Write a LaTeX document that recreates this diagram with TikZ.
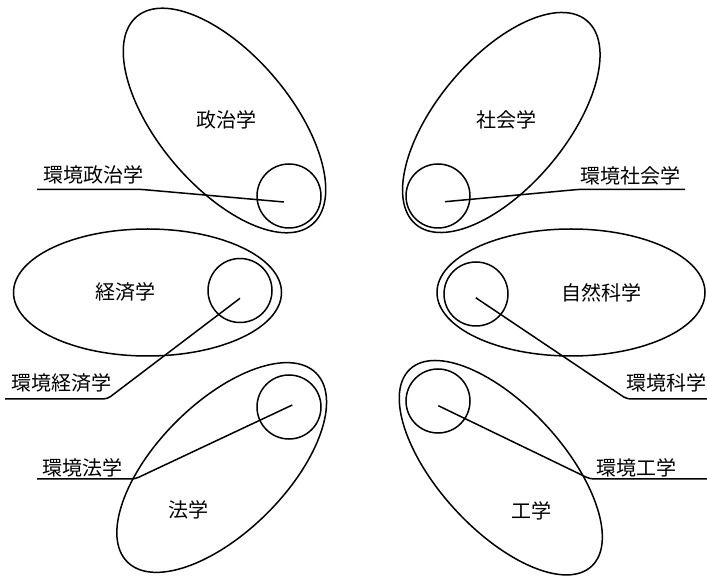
\documentclass[tikz,border=0pt]{standalone}
\usepackage{fontspec}
\newfontfamily\jp{Noto Sans CJK JP}
\usetikzlibrary{shapes.geometric}
\tikzset{
  field/.style={draw, ellipse, inner sep=0pt, line width=1.5pt},
  sub/.style={draw, circle, inner sep=0pt, minimum size=64pt, line width=1.5pt},
  lbl/.style={inner sep=0pt, font=\jp\fontsize{20}{24}\selectfont},
  lead/.style={line width=1.5pt, rounded corners=4pt}
}
\begin{document}
\begin{tikzpicture}[x=1pt,y=1pt]
\fill[white] (0,0) rectangle (707,576);
\useasboundingbox (0,0) rectangle (707,576);
% large fields
\node[field, minimum width=272pt, minimum height=132pt, rotate=-49.8] (E1) at (224.5,455.5) {};
\node[field, minimum width=266pt, minimum height=129pt, rotate=50] (E2) at (501.3,453.5) {};
\node[field, minimum width=268pt, minimum height=127pt] (E3) at (147.5,283.5) {};
\node[field, minimum width=268pt, minimum height=127pt] (E4) at (571,283.5) {};
\node[field, minimum width=267pt, minimum height=129pt, rotate=45] (E5) at (221.7,108.5) {};
\node[field, minimum width=268pt, minimum height=124pt, rotate=-47.4] (E6) at (500.8,108.3) {};
% field names
\node[lbl] (n1) at (226,456) {政治学};
\node[lbl] (n2) at (506.7,456) {社会学};
\node[lbl] (n3) at (125,284.3) {経済学};
\node[lbl] (n4) at (601.7,282.7) {自然科学};
\node[lbl] (n5) at (188.3,66) {法学};
\node[lbl] (n6) at (531.7,65.3) {工学};
% environmental sub-fields
\node[sub] (c1) at (289,380) {};
\node[sub] (c2) at (438,380) {};
\node[sub] (c3) at (240,285.5) {};
\node[sub] (c4) at (476,282) {};
\node[sub] (c5) at (289,169) {};
\node[sub] (c6) at (438,175) {};
% leader coordinates
\coordinate (s1) at (284,374);   \coordinate (b1) at (140,386.7); \coordinate (e1) at (37,386.7);
\coordinate (s2) at (445,374.3); \coordinate (b2) at (580,386.7); \coordinate (e2) at (685,386.7);
\coordinate (s3) at (240,277.7); \coordinate (b3) at (107.3,177); \coordinate (e3) at (5,177);
\coordinate (s4) at (475.7,278.3); \coordinate (b4) at (626.7,177); \coordinate (e4) at (707,177);
\coordinate (s5) at (292.3,171); \coordinate (b5) at (135,97);   \coordinate (e5) at (37,97);
\coordinate (s6) at (438.3,170.3); \coordinate (b6) at (590,97); \coordinate (e6) at (707,97);
\draw[lead] (s1) -- (b1) -- (e1);
\draw[lead] (s2) -- (b2) -- (e2);
\draw[lead] (s3) -- (b3) -- (e3);
\draw[lead] (s4) -- (b4) -- (e4);
\draw[lead] (s5) -- (b5) -- (e5);
\draw[lead] (s6) -- (b6) -- (e6);
% leader labels
\node[lbl] (t1) at (93,401) {環境政治学};
\node[lbl] (t2) at (630,400) {環境社会学};
\node[lbl] (t3) at (61.7,192.7) {環境経済学};
\node[lbl] (t4) at (666,193) {環境科学};
\node[lbl] (t5) at (82,108) {環境法学};
\node[lbl] (t6) at (636,108) {環境工学};
\end{tikzpicture}
\end{document}
